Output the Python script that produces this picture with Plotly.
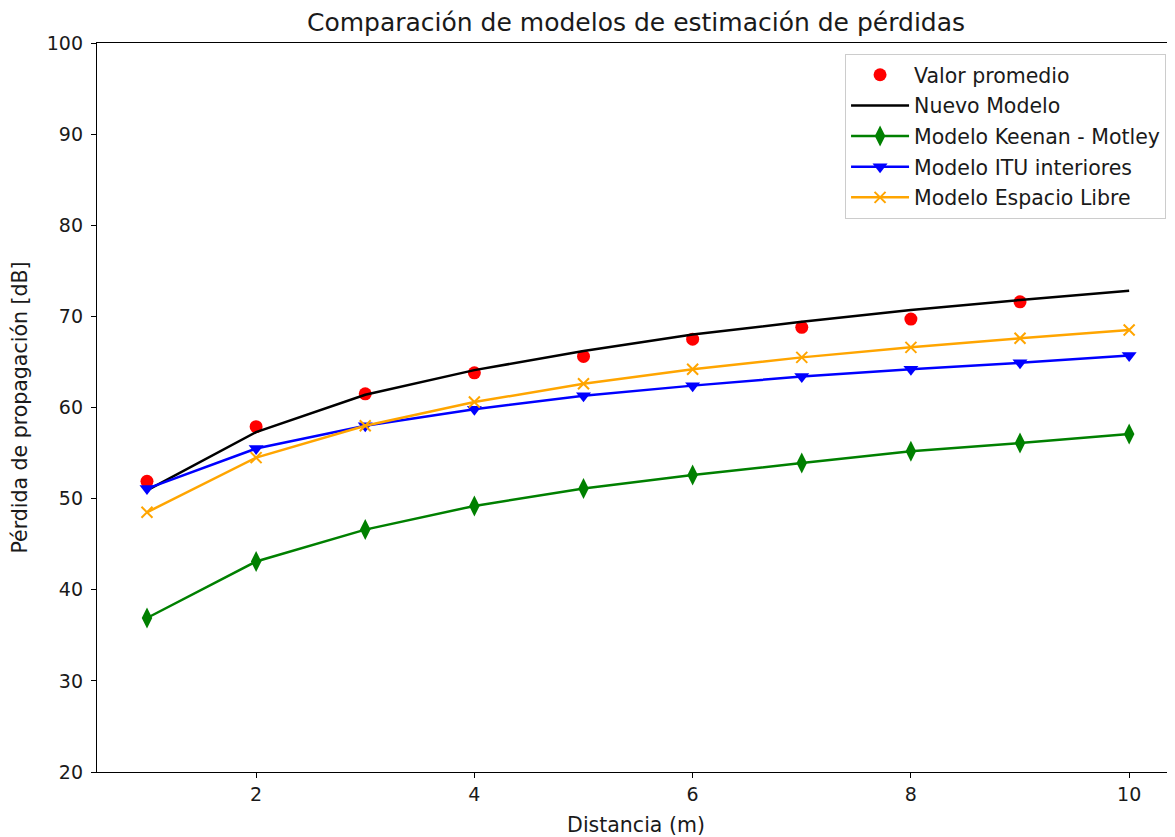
import plotly.graph_objects as go

distancia = [1, 2, 3, 4, 5, 6, 7, 8, 9, 10]
valor_promedio = [51.9, 57.9, 61.5, 63.8, 65.6, 67.5, 68.8, 69.7, 71.6]
nuevo_modelo = [50.9, 57.3, 61.4, 64.1, 66.2, 68.0, 69.4, 70.7, 71.8, 72.8]
keenan_motley = [36.9, 43.1, 46.6, 49.2, 51.1, 52.6, 53.9, 55.2, 56.1, 57.1]
itu_interiores = [51.1, 55.5, 58.0, 59.8, 61.3, 62.4, 63.4, 64.2, 64.9, 65.7]
espacio_libre = [48.5, 54.5, 58.0, 60.6, 62.6, 64.2, 65.5, 66.6, 67.6, 68.5]

y_ticks = [20, 30, 40, 50, 60, 70, 80, 90, 100]
x_ticks = [2, 4, 6, 8, 10]

FONT = "DejaVu Sans"
LW = 2.5
W, H = 1167, 829

fig = go.Figure()
fig.add_trace(go.Scatter(
    x=distancia[:len(valor_promedio)], y=valor_promedio, mode="markers",
    name="Valor promedio", legendgroup="a",
    marker=dict(symbol="circle", size=13, color="#ff0000")))
fig.add_trace(go.Scatter(
    x=distancia, y=nuevo_modelo, mode="lines", name="Nuevo Modelo", legendgroup="b",
    line=dict(color="#000000", width=LW)))
fig.add_trace(go.Scatter(
    x=distancia, y=keenan_motley, mode="lines+markers", name="Modelo Keenan - Motley",
    legendgroup="c",
    line=dict(color="#008000", width=LW),
    marker=dict(symbol="diamond-tall", size=15, color="#008000")))
fig.add_trace(go.Scatter(
    x=distancia, y=itu_interiores, mode="lines+markers", name="Modelo ITU interiores",
    legendgroup="d",
    line=dict(color="#0000ff", width=LW),
    marker=dict(symbol="triangle-down", size=13, color="#0000ff")))
fig.add_trace(go.Scatter(
    x=distancia, y=espacio_libre, mode="lines+markers", name="Modelo Espacio Libre",
    legendgroup="e",
    line=dict(color="#ffa500", width=LW),
    marker=dict(symbol="x-thin", size=11, color="#ffa500",
                line=dict(color="#ffa500", width=2))))

fig.update_layout(
    width=W, height=H,
    margin=dict(l=89, r=0, t=35, b=65),
    paper_bgcolor="white", plot_bgcolor="white",
    font=dict(family=FONT, size=19, color="#1a1a1a"),
    title=dict(text="Comparación de modelos de estimación de pérdidas",
               x=0.5, xref="paper", xanchor="center",
               y=1 - 14 / H, yref="container", yanchor="middle",
               font=dict(family=FONT, size=25, color="#1a1a1a")),
    xaxis=dict(range=[0.542, 10.42], tickvals=x_ticks, ticks="outside", ticklen=5,
               tickcolor="black", showgrid=False, zeroline=False,
               showline=True, linecolor="black", linewidth=1.3, mirror=True,
               tickfont=dict(size=19),
               title=dict(text="Distancia (m)", standoff=13,
                          font=dict(family=FONT, size=20.5))),
    yaxis=dict(range=[20, 100], tickvals=y_ticks, ticks="outside", ticklen=5,
               tickcolor="black", showgrid=False, zeroline=False,
               showline=True, linecolor="black", linewidth=1.3, mirror=False,
               tickfont=dict(size=19), ticklabelstandoff=4,
               title=dict(text="Pérdida de propagación [dB]", standoff=13,
                          font=dict(family=FONT, size=20.5))),
    legend=dict(x=0.9917, xanchor="right", y=0.985, yanchor="top",
                bgcolor="rgba(255,255,255,0.85)", bordercolor="#cccccc", borderwidth=1,
                font=dict(family=FONT, size=20.5), tracegroupgap=1,
                itemwidth=58),
    showlegend=True,
)

fig.write_html("out.html")
